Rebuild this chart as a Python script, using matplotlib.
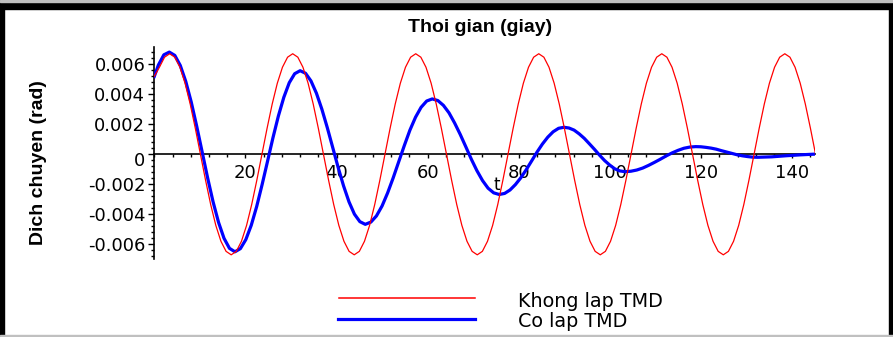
import numpy as np
import matplotlib.pyplot as plt
from matplotlib.lines import Line2D
from matplotlib.patches import Rectangle
from matplotlib.ticker import FixedLocator, MultipleLocator
from matplotlib.transforms import ScaledTranslation

# angle without TMD (rad), one sample every red_dt seconds starting at t = 0
red_dt = 1.125
red_y = [
    0.0052, 0.0058, 0.00647,
    0.0067, 0.00647, 0.0058, 0.00474, 0.00335, 0.00173, 0.0, -0.00173, -0.00335, -0.00474, -0.0058, -0.00647,
    -0.0067, -0.00647, -0.0058, -0.00474, -0.00335, -0.00173, 0.0, 0.00173, 0.00335, 0.00474, 0.0058, 0.00647,
    0.0067, 0.00647, 0.0058, 0.00474, 0.00335, 0.00173, 0.0, -0.00173, -0.00335, -0.00474, -0.0058, -0.00647,
    -0.0067, -0.00647, -0.0058, -0.00474, -0.00335, -0.00173, 0.0, 0.00173, 0.00335, 0.00474, 0.0058, 0.00647,
    0.0067, 0.00647, 0.0058, 0.00474, 0.00335, 0.00173, 0.0, -0.00173, -0.00335, -0.00474, -0.0058, -0.00647,
    -0.0067, -0.00647, -0.0058, -0.00474, -0.00335, -0.00173, 0.0, 0.00173, 0.00335, 0.00474, 0.0058, 0.00647,
    0.0067, 0.00647, 0.0058, 0.00474, 0.00335, 0.00173, 0.0, -0.00173, -0.00335, -0.00474, -0.0058, -0.00647,
    -0.0067, -0.00647, -0.0058, -0.00474, -0.00335, -0.00173, 0.0, 0.00173, 0.00335, 0.00474, 0.0058, 0.00647,
    0.0067, 0.00647, 0.0058, 0.00474, 0.00335, 0.00173, 0.0, -0.00173, -0.00335, -0.00474, -0.0058, -0.00647,
    -0.0067, -0.00647, -0.0058, -0.00474, -0.00335, -0.00173, 0.0, 0.00173, 0.00335, 0.00474, 0.0058, 0.00647,
    0.0067, 0.00647, 0.0058, 0.00474, 0.00335, 0.00173, 0.0,
]

# angle with TMD (rad)
blue_t = [
    0.0, 0.9, 2.1, 3.3,
    4.5, 5.7, 6.9, 8.1, 9.3, 10.5, 11.7, 12.9, 14.1, 15.3, 16.5, 17.7,
    18.89, 20.08, 21.28, 22.47, 23.66, 24.85, 26.04, 27.23, 28.43, 29.62, 30.81, 32.0,
    33.19, 34.38, 35.58, 36.77, 37.96, 39.15, 40.34, 41.53, 42.73, 43.92, 45.11, 46.3,
    47.53, 48.75, 49.98, 51.2, 52.43, 53.65, 54.88, 56.1, 57.33, 58.55, 59.78, 61.0,
    62.23, 63.45, 64.68, 65.9, 67.13, 68.35, 69.58, 70.8, 72.03, 73.25, 74.48, 75.7,
    76.88, 78.07, 79.25, 80.43, 81.62, 82.8, 83.98, 85.17, 86.35, 87.53, 88.72, 89.9,
    91.02, 92.13, 93.25, 94.37, 95.48, 96.6, 97.72, 98.83, 99.95, 101.07, 102.18, 103.3,
    104.59, 105.88, 107.18, 108.47, 109.76, 111.05, 112.34, 113.63, 114.93, 116.22, 117.51, 118.8,
    119.93, 121.07, 122.2, 123.33, 124.47, 125.6, 126.73, 127.87, 129.0, 130.13, 131.27, 132.4,
    135.5, 138.6, 141.7, 145.0,
]
blue_y = [
    0.00519, 0.00595, 0.00663, 0.00681,
    0.00659, 0.00592, 0.00486, 0.00349, 0.00188, 0.00016, -0.00157, -0.00317, -0.00454, -0.0056, -0.00627, -0.0065,
    -0.00629, -0.00569, -0.00473, -0.00348, -0.00202, -0.00047, 0.0011, 0.00255, 0.0038, 0.00477, 0.00537, 0.00557,
    0.0054, 0.00489, 0.00407, 0.00301, 0.00178, 0.00046, -0.00087, -0.0021, -0.00317, -0.00399, -0.00449, -0.00467,
    -0.00452, -0.00411, -0.00345, -0.00258, -0.00157, -0.00049, 0.00059, 0.00161, 0.00247, 0.00313, 0.00355, 0.00369,
    0.00358, 0.00326, 0.00276, 0.00209, 0.00133, 0.00051, -0.00033, -0.00109, -0.00175, -0.00226, -0.00257, -0.00268,
    -0.00261, -0.00238, -0.00202, -0.00157, -0.00103, -0.00045, 0.00014, 0.00068, 0.00114, 0.0015, 0.00173, 0.0018,
    0.00175, 0.00161, 0.00136, 0.00106, 0.0007, 0.00033, -0.00006, -0.00042, -0.00072, -0.00097, -0.00111, -0.00116,
    -0.00113, -0.00105, -0.00092, -0.00074, -0.00054, -0.00033, -0.00011, 0.00009, 0.00026, 0.0004, 0.00048, 0.00051,
    0.0005, 0.00046, 0.00041, 0.00034, 0.00024, 0.00015, 0.00006, -0.00003, -0.0001, -0.00015, -0.00019, -0.0002,
    -0.00017, -0.0001, -0.00004, 0.00001,
]

x_ticks = [20, 40, 60, 80, 100, 120, 140]
y_ticks = [-0.006, -0.004, -0.002, 0.0, 0.002, 0.004, 0.006]
y_tick_labels = ["-0.006", "-0.004", "-0.002", "0", "0.002", "0.004", "0.006"]
series_names = ["Khong lap TMD", "Co lap TMD"]

W, H = 893, 337
fig = plt.figure(figsize=(W / 100, H / 100), dpi=100, facecolor="white")
ax = fig.add_axes([154.3 / W, 1 - 259.3 / H, (815 - 154.3) / W, 212 / H])
ax.set_facecolor("white")

red_t = np.arange(len(red_y)) * red_dt
ax.plot(blue_t, blue_y, color="#0000ff", lw=2.3, solid_joinstyle="round", zorder=2)
ax.plot(red_t, red_y, color="#ff0000", lw=0.9, zorder=3)

ax.set_xlim(0, 145)
ax.set_ylim(-0.0070, 0.00713)

# maple-style axes crossing at the origin
for side in ["top", "right"]:
    ax.spines[side].set_visible(False)
ax.spines["bottom"].set_position(("data", 0))
ax.spines["left"].set_position(("data", 0))
for side in ["bottom", "left"]:
    ax.spines[side].set_linewidth(1.2)
    ax.spines[side].set_zorder(1)

ax.xaxis.set_major_locator(FixedLocator(x_ticks))
ax.xaxis.set_minor_locator(MultipleLocator(4))
ax.set_xticklabels([str(v) for v in x_ticks])
ax.yaxis.set_major_locator(FixedLocator(y_ticks))
ax.yaxis.set_minor_locator(MultipleLocator(0.0004))
ax.set_yticklabels(y_tick_labels)

ax.tick_params(axis="x", which="major", direction="out", length=3, width=1, pad=4,
               labelsize=13, labelfontfamily="DejaVu Sans")
ax.tick_params(axis="x", which="minor", direction="out", length=2.5, width=1)
ax.tick_params(axis="y", which="major", direction="out", length=4, width=1, pad=2.5,
               labelsize=13, labelfontfamily="DejaVu Sans")
ax.tick_params(axis="y", which="minor", direction="out", length=2.5, width=1)

# the "0" label sits a little below the horizontal axis
for lbl in ax.get_yticklabels():
    if lbl.get_text() == "0":
        lbl.set_transform(lbl.get_transform() + ScaledTranslation(0, -5 / 100, fig.dpi_scale_trans))

ax.text(0.518, 0.35, "t", transform=ax.transAxes, ha="center", va="center",
        fontsize=12, family="DejaVu Sans")

fig.text(480 / W, 1 - 28 / H, "Thoi gian (giay)", ha="center", va="center",
         fontsize=14, fontweight="bold", family="Liberation Sans")
fig.text(38.3 / W, 1 - 163 / H, "Dich chuyen (rad)", ha="center", va="center",
         rotation=90, fontsize=14, fontweight="bold", family="Liberation Sans")

# legend below the plot
fig.add_artist(Line2D([339 / W, 475 / W], [1 - 298.3 / H] * 2, color="#ff0000", lw=1.1,
                      transform=fig.transFigure))
fig.add_artist(Line2D([338 / W, 475 / W], [1 - 319.3 / H] * 2, color="#0000ff", lw=2.3,
                      transform=fig.transFigure))
fig.text(518.3 / W, 1 - 306.7 / H, series_names[0], ha="left", va="baseline",
         fontsize=13.8, family="DejaVu Sans")
fig.text(518.3 / W, 1 - 326.7 / H, series_names[1], ha="left", va="baseline",
         fontsize=13.8, family="DejaVu Sans")

# window frame
fig.add_artist(Rectangle((0, 1 - 9 / H), 1, 7 / H, color="black", transform=fig.transFigure))
fig.add_artist(Rectangle((0, 0), 4 / W, 1, color="black", transform=fig.transFigure))
fig.add_artist(Rectangle((889 / W, 0), 4 / W, 1, color="black", transform=fig.transFigure))
fig.add_artist(Rectangle((0, 1 - 1.5 / H), 1, 1.5 / H, color="#c0c0c0", transform=fig.transFigure))
fig.add_artist(Rectangle((0, 1 / H), 1, 1.5 / H, color="#c0c0c0", transform=fig.transFigure))

fig.savefig("out.png", dpi=100, facecolor="white")
